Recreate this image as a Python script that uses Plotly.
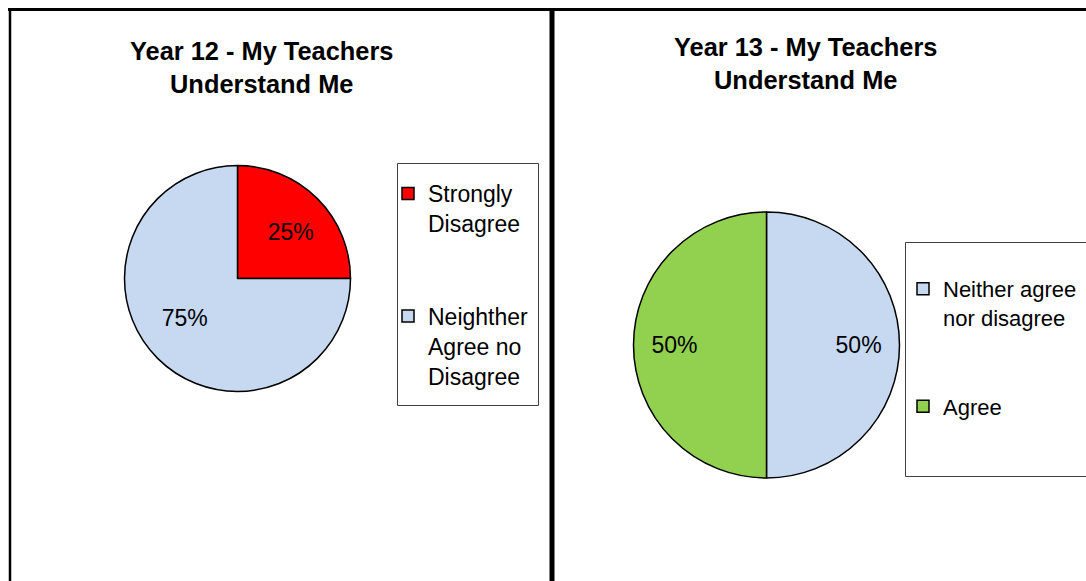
import plotly.graph_objects as go

W, H = 1086, 581

# ---- data ----
y12_title = "Year 12 - My Teachers<br>Understand Me"
y12_categories = ["Strongly<br>Disagree", "Neighther<br>Agree no<br>Disagree"]
y12_values = [25, 75]
y12_colors = ["#FF0000", "#C6D9F1"]

y13_title = "Year 13 - My Teachers<br>Understand Me"
y13_categories = ["Neither agree<br>nor disagree", "Agree"]
y13_values = [50, 50]
y13_colors = ["#C6D9F1", "#92D050"]


def px(x):
    return x / W


def py(y):
    return 1 - y / H


def padded(labels):
    # extra blank lines give the wide spacing between legend entries
    return [l + "<br> <br> " if i < len(labels) - 1 else l for i, l in enumerate(labels)]


NB = "\u00a0"
PCT = "%{percent:.0%}"
FONT = "Liberation Sans, Arial, sans-serif"

fig = go.Figure()

fig.add_trace(go.Pie(
    labels=padded(y12_categories), values=y12_values,
    marker=dict(colors=y12_colors, line=dict(color="black", width=1.5)),
    sort=False, direction="clockwise", rotation=0,
    texttemplate=[NB * 2 + PCT, PCT + NB * 4], textposition="inside",
    insidetextorientation="horizontal",
    textfont=dict(family=FONT, size=23, color="black"),
    domain=dict(x=[px(124.5), px(350.5)], y=[py(391.5), py(165.5)]),
    legend="legend", hoverinfo="label+percent",
))

fig.add_trace(go.Pie(
    labels=padded(y13_categories), values=y13_values,
    marker=dict(colors=y13_colors, line=dict(color="black", width=1.5)),
    sort=False, direction="clockwise", rotation=0,
    texttemplate=[NB * 8 + PCT, PCT + NB * 8], textposition="inside",
    insidetextorientation="horizontal",
    textfont=dict(family=FONT, size=23, color="black"),
    domain=dict(x=[px(633.5), px(899.5)], y=[py(478), py(212)]),
    legend="legend2", hoverinfo="label+percent",
))

shapes = [
    # panel frames
    dict(type="line", xref="paper", yref="paper", x0=px(8), x1=1.0, y0=py(9.5), y1=py(9.5),
         line=dict(color="black", width=3)),
    dict(type="line", xref="paper", yref="paper", x0=px(10), x1=px(10), y0=py(8), y1=0.0,
         line=dict(color="black", width=2.5)),
    dict(type="line", xref="paper", yref="paper", x0=px(552), x1=px(552), y0=py(8), y1=0.0,
         line=dict(color="black", width=5)),
    # legend boxes
    dict(type="rect", xref="paper", yref="paper", x0=px(397.5), x1=px(538.5), y0=py(405.5), y1=py(163.5),
         line=dict(color="#404040", width=1)),
    dict(type="path", xref="paper", yref="paper",
         path=f"M 1.0,{py(242.5)} L {px(905.5)},{py(242.5)} L {px(905.5)},{py(476.5)} L 1.0,{py(476.5)}",
         line=dict(color="#404040", width=1)),
]

annotations = [
    dict(text="<b>" + y12_title + "</b>", x=px(261), y=py(67), xref="paper", yref="paper",
         showarrow=False, xanchor="center", yanchor="middle",
         font=dict(family=FONT, size=25.4, color="black")),
    dict(text="<b>" + y13_title + "</b>", x=px(805), y=py(63), xref="paper", yref="paper",
         showarrow=False, xanchor="center", yanchor="middle",
         font=dict(family=FONT, size=25.4, color="black")),
]

legend_common = dict(
    bgcolor="rgba(0,0,0,0)", borderwidth=0, valign="top",
    xanchor="left", yanchor="top", tracegroupgap=0,
)

fig.update_layout(
    width=W, height=H,
    margin=dict(l=0, r=0, t=0, b=0),
    paper_bgcolor="white", plot_bgcolor="white",
    shapes=shapes, annotations=annotations,
    legend=dict(x=px(388), y=py(172), font=dict(family=FONT, size=23, color="black"), **legend_common),
    legend2=dict(x=px(903), y=py(268), font=dict(family=FONT, size=22, color="black"), **legend_common),
    showlegend=True,
)

fig.write_html(
    "out.html",
    config={"displayModeBar": False},
    post_script="document.body.style.margin='0px';"
                "document.body.style.overflow='hidden';"
                "document.documentElement.style.overflow='hidden';",
)
